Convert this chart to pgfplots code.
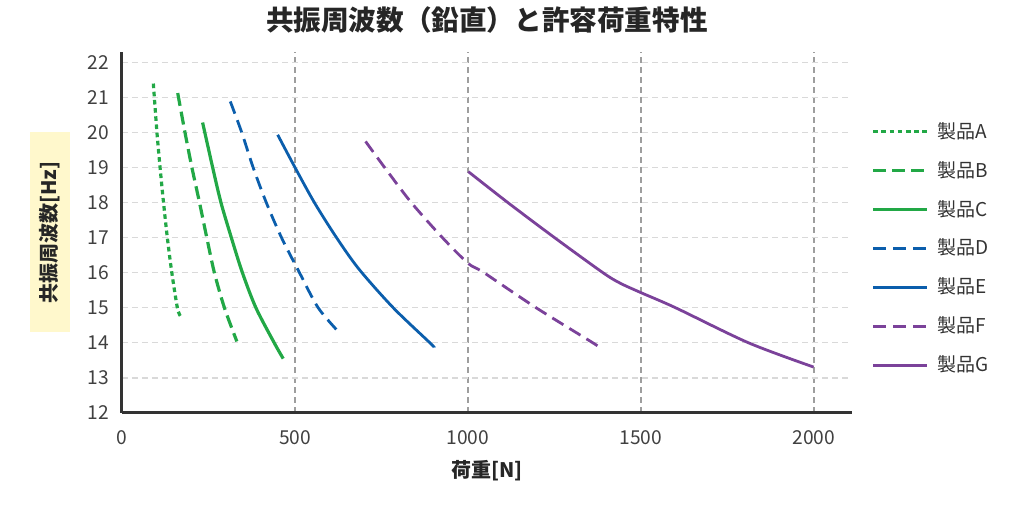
\documentclass[border=0pt]{standalone}
\usepackage{fontspec}
\setmainfont{Noto Sans CJK JP}
\usepackage{pgfplots}
\pgfplotsset{compat=1.18}

\definecolor{cgreen}{HTML}{22A846}
\definecolor{cblue}{HTML}{0B5EAC}
\definecolor{cpurple}{HTML}{7B429A}
\definecolor{labelbg}{HTML}{FFF8CC}
\definecolor{ticktext}{HTML}{404040}

\begin{document}
\begin{tikzpicture}
\path[use as bounding box] (-61pt,-49.5pt) rectangle (451pt,206.5pt);
\begin{axis}[
    at={(0,0)}, anchor=south west,
    scale only axis,
    width=365pt, height=180.5pt,
    xmin=0, xmax=2110, ymin=12, ymax=22.29,
    xtick={0,500,1000,1500,2000},
    ytick={12,13,...,22},
    /pgf/number format/assume math mode=true,
    /pgf/number format/1000 sep={},
    major tick length=0pt,
    axis x line*=bottom, axis y line*=left,
    axis line style={line width=1.5pt, color=black!80},
    ticklabel style={font=\fontsize{9.6}{11}\selectfont, text=ticktext},
    yticklabel style={xshift=-3pt},
    xticklabel style={yshift=-5.5pt},
    xmajorgrids, ymajorgrids,
    major x grid style={color=black!38, line width=0.6pt, dash pattern=on 3pt off 2pt},
    major y grid style={color=black!15, line width=0.6pt, dash pattern=on 3pt off 2pt},
    title={共振周波数（鉛直）と許容荷重特性},
    title style={font=\bfseries\fontsize{13.8}{15}\selectfont, text=black!85, at={(0.5,1)}, anchor=center, yshift=10pt},
    xlabel={荷重[N]},
    xlabel style={font=\bfseries\fontsize{10}{12}\selectfont, text=black!85, at={(axis description cs:0.5,-0.1607)}, anchor=center},
    ylabel={共振周波数[Hz]},
    ylabel style={font=\bfseries\fontsize{10}{12}\selectfont, text=black!85, at={(axis description cs:-0.0986,0.5)}, anchor=center, rotate=0, fill=labelbg, minimum width=100pt, minimum height=20pt, inner sep=0pt},
    legend style={at={(1.018,0.829)}, anchor=north west, draw=none, fill=none,
        font=\fontsize{9.5}{11}\selectfont, text=black!80, row sep=6pt,
        /tikz/every odd column/.append style={column sep=2.5pt}},
    legend cell align=left,
    legend image code/.code={\draw[#1] (0pt,0pt) -- (27pt,0pt);},
    every axis plot/.append style={smooth, tension=0.5},
]
\addplot[cgreen, line width=1.6pt, dash pattern=on 2.3pt off 1.8pt] coordinates {
 (90.6,21.39) (101,20) (110,19) (120,18) (131,17) (144,16) (160,15) (169,14.76)
};
\addlegendentry{製品A}
\addplot[cgreen, line width=1.6pt, dash pattern=on 6.5pt off 3pt] coordinates {
 (161,21.12) (182,20) (202,19) (224,18) (245,17) (267,16) (296,15) (332,14.04)
};
\addlegendentry{製品B}
\addplot[cgreen, line width=1.6pt] coordinates {
 (233,20.28) (262,19) (286,18) (316,17) (348,16) (387,15) (440,14) (466,13.55)
};
\addlegendentry{製品C}
\addplot[cblue, line width=1.4pt, dash pattern=on 6.5pt off 3.5pt] coordinates {
 (313,20.88) (346,20) (379,19) (417,18) (461,17) (513,16) (567,15) (628,14.29)
};
\addlegendentry{製品D}
\addplot[cblue, line width=1.4pt] coordinates {
 (450,19.93) (500,19) (556,18) (620,17) (685,16.1) (784,15) (890,14) (902,13.87)
};
\addlegendentry{製品E}
\addplot[cpurple, line width=1.4pt, dash pattern=on 6.5pt off 3.5pt] coordinates {
 (704,19.74) (759,19) (836,18) (926,17) (1000,16.27) (1046,16.0) (1197,15) (1361,14) (1386,13.83)
};
\addlegendentry{製品F}
\addplot[cpurple, line width=1.4pt] coordinates {
 (1001,18.88) (1115,18) (1250,17) (1390,16) (1440,15.7) (1500,15.43) (1600,15.0) (1811,14) (1999,13.31)
};
\addlegendentry{製品G}
\end{axis}
\end{tikzpicture}
\end{document}
